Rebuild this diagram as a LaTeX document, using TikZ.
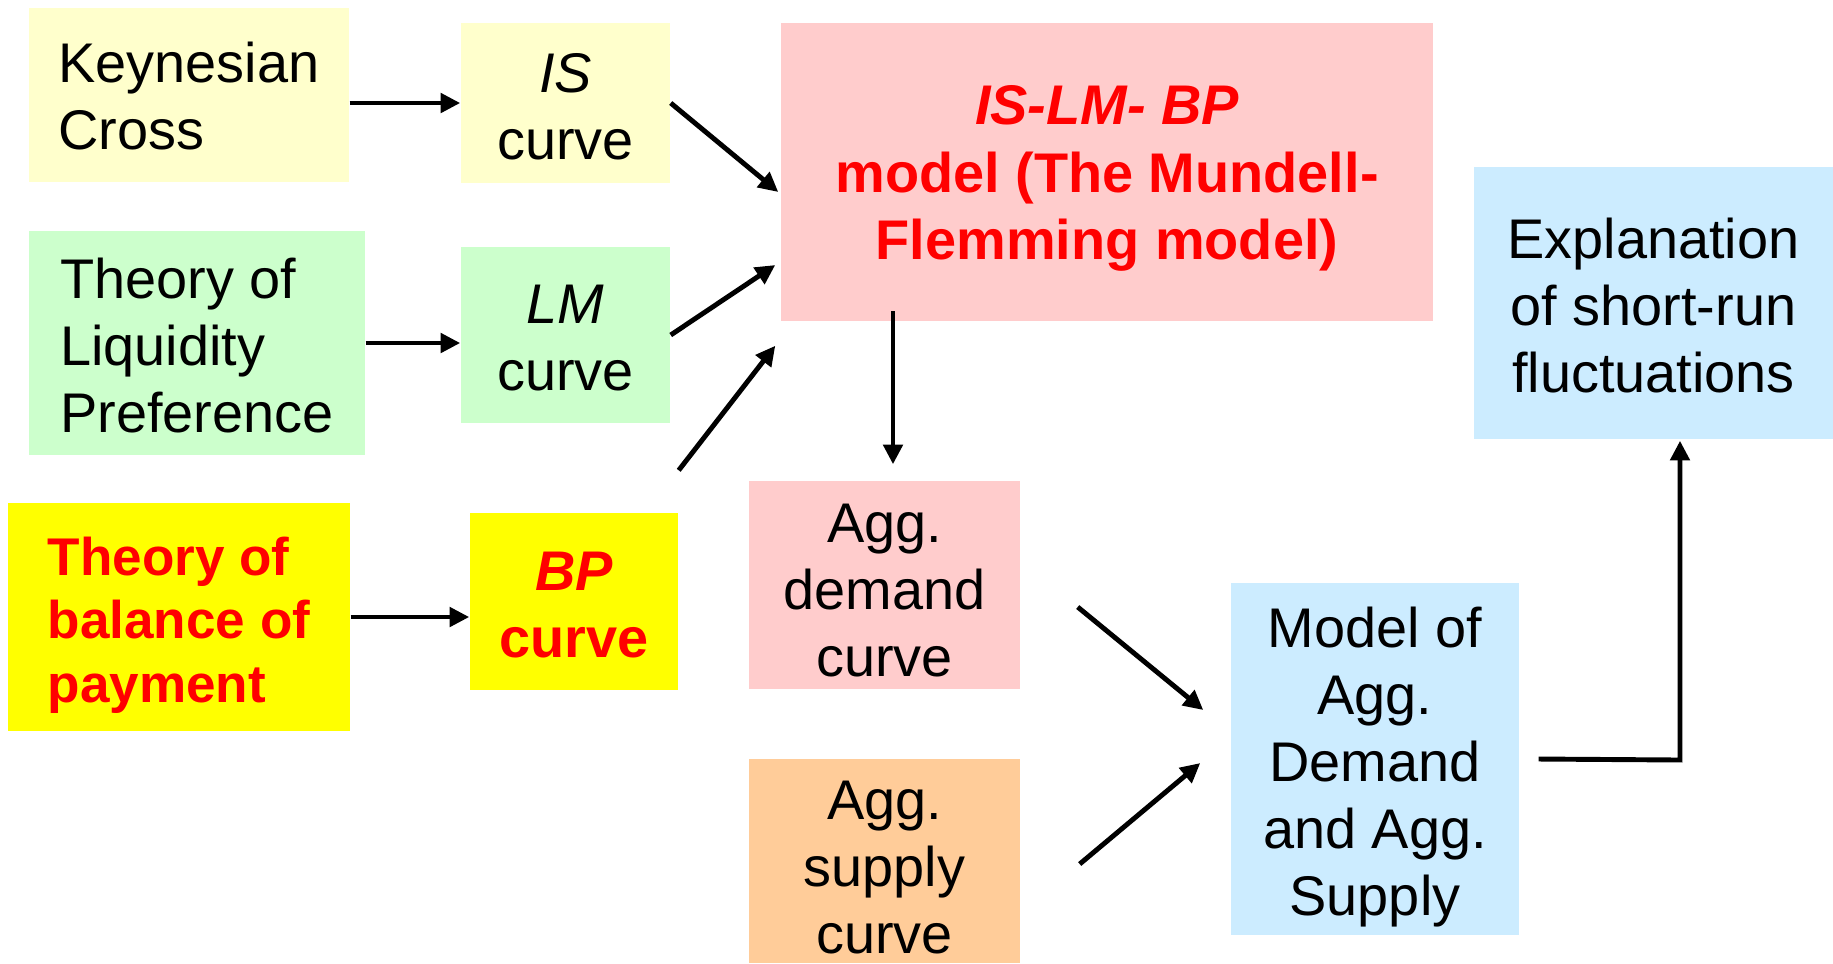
\documentclass[tikz,border=0pt]{standalone}
\usepackage{fontspec}
\setmainfont{Liberation Sans}
\usetikzlibrary{arrows.meta}

\definecolor{paleyellow}{HTML}{FFFFCC}
\definecolor{palegreen}{HTML}{CCFFCC}
\definecolor{brightyellow}{HTML}{FFFF00}
\definecolor{palepink}{HTML}{FFCCCC}
\definecolor{paleblue}{HTML}{CCECFF}
\definecolor{paleorange}{HTML}{FFCC99}

% invisible strut that pushes the first line down
\newcommand{\topgap}[1]{\rule{0pt}{#1pt}}

\begin{document}
\begin{tikzpicture}[box/.style={rectangle,inner sep=0pt,align=center,font=\fontsize{15.9}{19.1}\selectfont},
  hot/.style={box,text=red,font=\fontsize{15.9}{19.1}\selectfont\bfseries},
  arr/.style={line width=1.4pt,-{Triangle[length=5.6pt,width=5.4pt]}}]
\useasboundingbox (0,0) rectangle (18.33,-9.63);

\node[box,fill=paleyellow,minimum width=3.2cm,minimum height=1.74cm,align=left] (keyn) at (1.89,-0.95) {\topgap{12.1}Keynesian\\Cross};
\node[box,fill=paleyellow,minimum width=2.09cm,minimum height=1.6cm] (is) at (5.655,-1.03) {\itshape\topgap{13.1}IS\\curve};
\node[box,fill=palegreen,minimum width=3.36cm,minimum height=2.24cm,align=left] (liq) at (1.97,-3.43) {\topgap{12.8}Theory of\\Liquidity\\Preference};
\node[box,fill=palegreen,minimum width=2.09cm,minimum height=1.76cm] (lm) at (5.655,-3.35) {\itshape\topgap{12.8}LM\\curve};
\node[hot,font=\fontsize{15.1}{18}\selectfont\bfseries,fill=brightyellow,minimum width=3.42cm,minimum height=2.28cm,align=left] (bop) at (1.79,-6.17) {\topgap{15.5}Theory of\\balance of\\payment};
\node[hot,fill=brightyellow,minimum width=2.08cm,minimum height=1.77cm] (bp) at (5.74,-6.015) {\itshape\topgap{12.8}BP\\curve};

\node[hot,fill=palepink,minimum width=6.52cm,minimum height=2.98cm] (islm) at (11.07,-1.72) {\itshape\topgap{14.8}IS-LM- BP\\model (The Mundell-\\Flemming model)};
\node[box,fill=paleblue,minimum width=3.59cm,minimum height=2.72cm] (expl) at (16.535,-3.03) {\topgap{12.8}Explanation\\of short-run\\fluctuations};
\node[box,fill=palepink,minimum width=2.71cm,minimum height=2.08cm] (ad) at (8.845,-5.85) {\topgap{14.1}Agg.\\demand\\curve};
\node[box,fill=paleorange,minimum width=2.71cm,minimum height=2.04cm] (as) at (8.845,-8.61) {\topgap{14.8}Agg.\\supply\\curve};
\node[box,fill=paleblue,minimum width=2.88cm,minimum height=3.52cm] (adas) at (13.75,-7.59) {\topgap{16.1}Model of\\Agg.\\Demand\\and Agg.\\Supply};

\coordinate (bend) at (16.80,-7.60);

\draw[arr] (keyn.east |- is.west) to (is.west); %cross
\draw[arr] (liq.east) to (liq.east -| lm.west); %liquidity
\draw[arr] (bop.east) to (bop.east -| bp.west); %payment
\draw[arr] (is.east) to ([xshift=-0.02cm,yshift=-0.2cm]islm.west); %is
\draw[arr] (lm.east) to ([xshift=-0.05cm,yshift=-0.93cm]islm.west); %lm
\draw[arr] ([yshift=0.42cm]bp.north east) to ([xshift=-0.05cm,yshift=-0.24cm]islm.south west); %bp
\draw[arr] ([xshift=0.085cm,yshift=1.69cm]ad.north) to ([xshift=0.085cm,yshift=0.16cm]ad.north); %islm-ad
\draw[arr] ([xshift=0.57cm,yshift=-0.22cm]ad.east) to ([xshift=-0.27cm,yshift=0.49cm]adas.west); %ad
\draw[arr] ([xshift=0.59cm,yshift=-0.03cm]as.east) to ([xshift=-0.30cm,yshift=-0.04cm]adas.west); %as
\draw[arr] ([xshift=0.19cm]adas.east) -- (bend) -- ([yshift=-0.01cm]bend |- expl.south); %adas-expl

\end{tikzpicture}
\end{document}
